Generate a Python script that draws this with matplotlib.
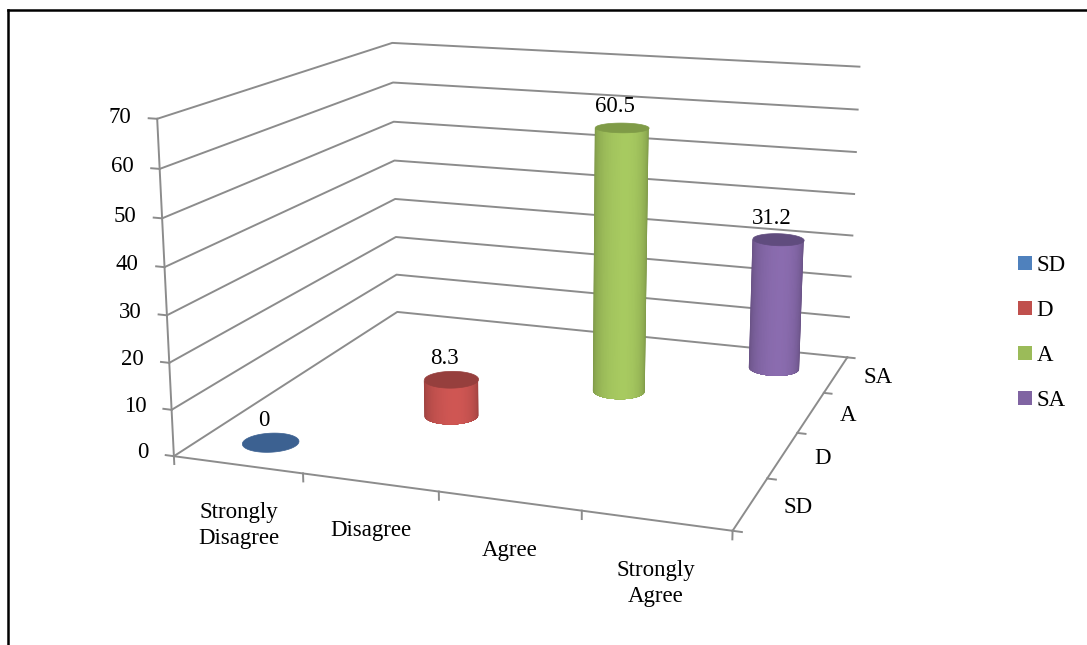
import numpy as np
import matplotlib
matplotlib.use('Agg')
import matplotlib.pyplot as plt
from matplotlib.patches import Patch
from matplotlib.lines import Line2D
from mpl_toolkits.mplot3d.art3d import Poly3DCollection
import matplotlib.colors as mcolors

categories = ['Strongly\nDisagree', 'Disagree', 'Agree', 'Strongly\nAgree']
series = ['SD', 'D', 'A', 'SA']
values = [0, 8.3, 60.5, 31.2]
value_labels = ['0', '8.3', '60.5', '31.2']
z_ticks = [0, 10, 20, 30, 40, 50, 60, 70]
side_colors = ['#4f81bd', '#c0504d', '#9bbb59', '#8064a2']
top_colors = ['#3c6191', '#963f3d', '#7f9b47', '#604c7e']

W, H = 1087, 645
FONT = 'Liberation Serif'
FS = 16.5

ELEV, AZIM = 14.159, -70.379
FOCAL = float(np.exp(-0.8132))
BOX = (1.0, float(np.exp(-0.0323)), float(np.exp(-0.5156)))
RECT = [0.11924, -0.01883, 0.72935, 1.22915]

fig = plt.figure(figsize=(W / 100, H / 100), dpi=100)
ax = fig.add_axes(RECT, projection='3d')
ax.set_xlim(0, 4); ax.set_ylim(0, 4); ax.set_zlim(0, 70)
ax.view_init(elev=ELEV, azim=AZIM)
ax.set_proj_type('persp', focal_length=FOCAL)
ax.set_box_aspect(BOX)
ax.set_axis_off()
ax.computed_zorder = False
M = ax.get_proj()


def p2(x, y, z):
    x, y, z = np.broadcast_arrays(np.asarray(x, float), np.asarray(y, float), np.asarray(z, float))
    v = M @ np.vstack([x.ravel(), y.ravel(), z.ravel(), np.ones(x.size)])
    return v[0] / v[3], v[1] / v[3]


def label(x, y, z, s, **kw):
    xp, yp = p2(x, y, z)
    ax.text2D(xp[0], yp[0], s, transform=ax.transData, fontsize=FS, family=FONT, zorder=200, **kw)


grid_c = '#8c8c8c'
lw = 1.4
for z in z_ticks:
    ax.plot([0, 0, 4], [0, 4, 4], [z, z, z], color=grid_c, lw=lw, zorder=1)
    ax.plot([0, -0.065], [0, 0], [z, z], color=grid_c, lw=lw, zorder=1)
    label(-0.2, 0, z, str(z), ha='right', va='center')
ax.plot([0, 0], [0, 0], [0, 70], color=grid_c, lw=lw, zorder=1)
ax.plot([0, 4, 4], [0, 0, 4], [0, 0, 0], color=grid_c, lw=lw, zorder=1)
for i in range(5):
    ax.plot([i, i], [0, 0], [0, -1.7], color=grid_c, lw=lw, zorder=1)
    ax.plot([4, 4.06], [i, i], [0, 0], color=grid_c, lw=lw, zorder=1)
for i, c in enumerate(categories):
    label(i + 0.5, 0, -8.0, c, ha='center', va='top', linespacing=1.3)
for j, sname in enumerate(series):
    label(4.22, j + 0.5, 0, sname, ha='left', va='center')

rx = 0.2
ry = rx / BOX[1]
a_rad = np.deg2rad(AZIM)
th = np.linspace(0, 2 * np.pi, 721)
N_LAYERS = 24
HL = 0.55  # position of the highlight across the visible face
for i, (v, lab) in enumerate(zip(values, value_labels)):
    xc = yc = i + 0.5
    zbase = 3 + 30 * i
    if v > 0:
        base = np.array(mcolors.to_rgb(side_colors[i]))
        # silhouette angles of this cylinder as seen through the axes' projection
        px, _ = p2(xc + rx * np.cos(th), yc + ry * np.sin(th), 0.5 * v)
        d = (th - a_rad + np.pi) % (2 * np.pi) - np.pi
        d_l, d_r = d[np.argmin(px)], d[np.argmax(px)]
        lo, hi = min(d_l, d_r), max(d_l, d_r)
        for j in range(N_LAYERS):
            w = 1 - j / N_LAYERS
            t0, t1 = HL - HL * w, HL + (1 - HL) * w
            arc = a_rad + lo + (hi - lo) * np.linspace(t0, t1, 60)
            bx, by_ = xc + rx * np.cos(arc), yc + ry * np.sin(arc)
            outline = (list(zip(bx, by_, np.zeros_like(arc))) +
                       list(zip(bx[::-1], by_[::-1], np.full_like(arc, v))))
            shade = 0.80 + 0.28 * np.cos(np.pi / 2 * w)
            col = tuple(np.clip(base * shade, 0, 1))
            layer = Poly3DCollection([outline], facecolor=col, edgecolor='none', linewidth=0,
                                     zorder=zbase + j)
            ax.add_collection3d(layer)
    cap = Poly3DCollection([list(zip(xc + rx * np.cos(th), yc + ry * np.sin(th), np.full_like(th, v)))],
                           facecolor=top_colors[i], edgecolor=top_colors[i], linewidth=0.5,
                           joinstyle='round', zorder=zbase + 28)
    ax.add_collection3d(cap)
    label(xc - 0.05, yc, v + 2.2, lab, ha='center', va='bottom')

handles = [Patch(facecolor=c, edgecolor='none') for c in side_colors]
fig.legend(handles, series, loc='upper left', bbox_to_anchor=(1018 / W, 1 - 255 / H), frameon=False,
           prop={'family': FONT, 'size': FS}, handlelength=0.59, handleheight=0.59,
           handletextpad=0.23, labelspacing=1.05, borderpad=0, borderaxespad=0)

fig.add_artist(Line2D([8 / W, 1], [1 - 10 / H, 1 - 10 / H], color='black', lw=1.8, transform=fig.transFigure))
fig.add_artist(Line2D([8 / W, 8 / W], [0, 1 - 10 / H], color='black', lw=1.8, transform=fig.transFigure))

fig.savefig('out.png', dpi=100)
